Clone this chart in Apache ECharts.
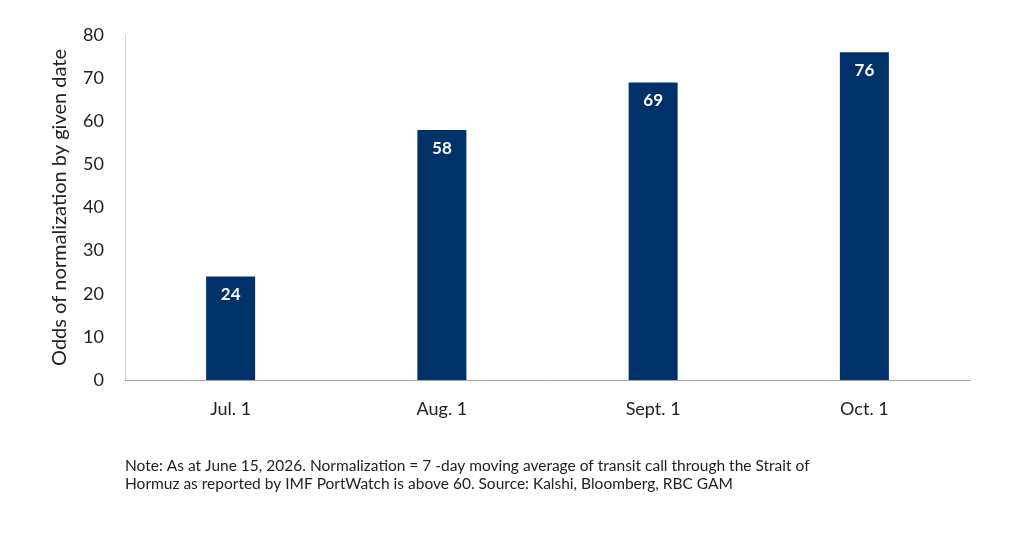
<!DOCTYPE html>
<html>
<head>
<meta charset="utf-8">
<script src="https://cdn.jsdelivr.net/npm/echarts@6/dist/echarts.min.js"></script>
<style>
  html, body { margin: 0; padding: 0; background: #fff; }
  #chart { width: 1024px; height: 559px; }
</style>
</head>
<body>
<div id="chart"></div>
<script>
// data
let categories = ['Jul. 1', 'Aug. 1', 'Sept. 1', 'Oct. 1']
let odds = [24, 58, 69, 76]
let yTicks = [0, 80, 10]   // min, max, interval

let myChart = echarts.init(document.getElementById('chart'))
let font = 'Lato, "Open Sans", sans-serif'

let option = {
    animation: false,
    textStyle: { fontFamily: font },
    grid: {
        left: 125,
        right: 54,
        top: 35,
        bottom: 179
    },
    xAxis: {
        type: 'category',
        data: categories,
        axisLine: { lineStyle: { color: '#a6a6a6', width: 1 } },
        axisTick: { show: false },
        axisLabel: { color: '#222', fontSize: 18, margin: 20, fontFamily: font }
    },
    yAxis: {
        type: 'value',
        min: yTicks[0],
        max: yTicks[1],
        interval: yTicks[2],
        name: 'Odds of normalization by given date',
        nameLocation: 'middle',
        nameGap: 55,
        nameTextStyle: { color: '#222', fontSize: 20, fontFamily: font },
        axisLine: { show: true, lineStyle: { color: '#d0d0d0', width: 1 } },
        axisTick: { show: false },
        splitLine: { show: false },
        axisLabel: { color: '#222', fontSize: 18, margin: 21, fontFamily: font }
    },
    series: [{
        type: 'bar',
        data: odds,
        barWidth: 49,
        itemStyle: { color: '#003168' },
        label: {
            show: true,
            position: 'insideTop',
            distance: 10,
            color: '#fff',
            fontSize: 17,
            fontWeight: 'bold',
            fontFamily: font
        }
    }],
    graphic: [{
        type: 'text',
        left: 125,
        top: 457,
        style: {
            text: 'Note: As at June 15, 2026. Normalization = 7 -day moving average of transit call through the Strait of\nHormuz as reported by IMF PortWatch is above 60. Source: Kalshi, Bloomberg, RBC GAM',
            fill: '#222',
            fontSize: 15.5,
            lineHeight: 18,
            fontFamily: font
        }
    }]
}
myChart.setOption(option)
</script>
</body>
</html>
